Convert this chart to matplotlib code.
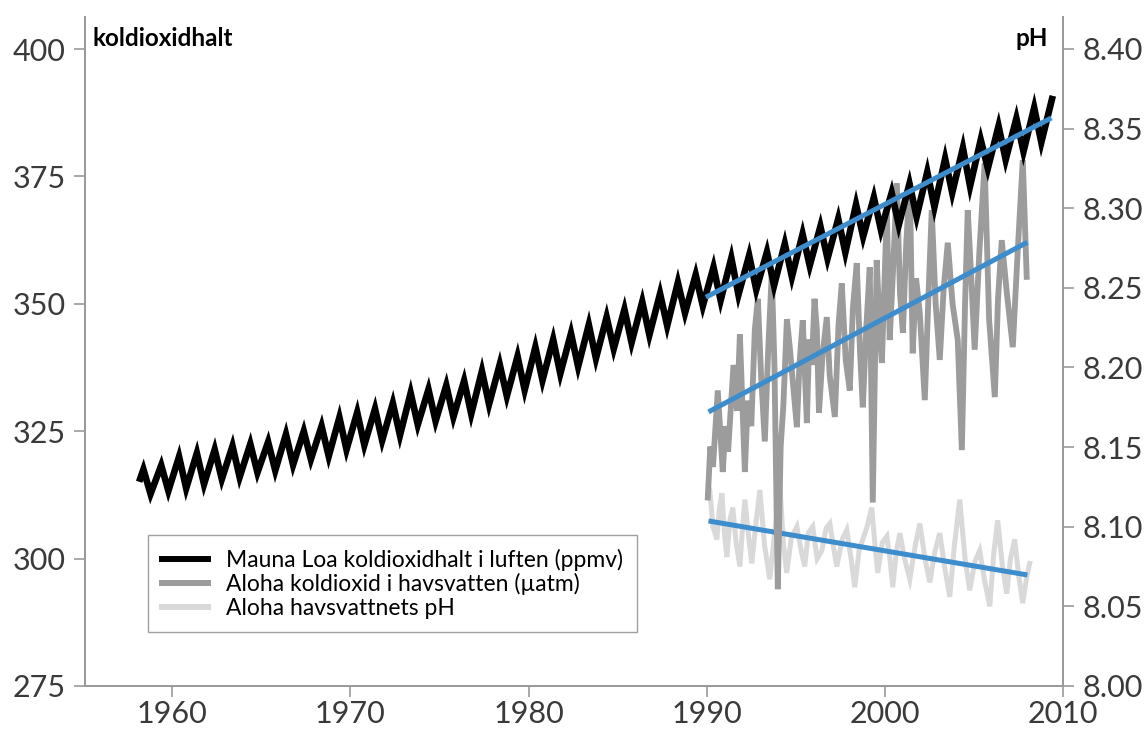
import matplotlib
matplotlib.use("Agg")
import matplotlib.pyplot as plt
from matplotlib.lines import Line2D

# Mauna Loa CO2 (ppmv): seasonal max (May) and min (Sep/Oct) per year
ml_start = (1958.2, 315.7)
ml_years = list(range(1958, 2010))
ml_peaks = [317.5, 318.3, 320.0, 320.7, 321.4, 322.1, 322.5, 322.9, 324.4, 325.0,
            326.0, 327.7, 328.7, 329.4, 330.5, 332.5, 333.2, 334.0, 334.9, 336.8,
            338.1, 339.7, 341.5, 343.0, 344.2, 345.9, 347.4, 348.9, 350.4, 352.0,
            354.2, 355.7, 357.2, 359.0, 359.5, 360.2, 361.8, 363.7, 365.2, 366.7,
            369.5, 370.9, 371.8, 373.6, 375.9, 378.5, 380.6, 382.2, 384.9, 386.4,
            388.5, 390.2]
ml_troughs = [312.7, 313.3, 313.8, 314.6, 315.6, 316.0, 316.9, 317.3, 318.4, 319.5,
              320.1, 321.4, 322.3, 323.2, 324.2, 326.3, 327.0, 327.8, 328.4, 330.3,
              331.9, 333.1, 335.0, 336.3, 337.7, 339.3, 341.2, 342.4, 343.9, 345.7,
              348.2, 349.6, 350.7, 351.8, 352.8, 353.6, 355.3, 357.5, 358.9, 360.1,
              363.2, 364.5, 365.5, 367.1, 369.0, 371.8, 373.1, 376.6, 378.3, 379.9,
              381.7]

# Aloha CO2 in seawater (uatm)
aloha_co2_years = [1990.06, 1990.2, 1990.35, 1990.62, 1990.9, 1991.05, 1991.2, 1991.5,
                   1991.7, 1991.86, 1992.14, 1992.3, 1992.5, 1992.7, 1992.87, 1993.05,
                   1993.26, 1993.45, 1993.65, 1993.8, 1993.99, 1994.15, 1994.3, 1994.5,
                   1994.66, 1994.85, 1995.06, 1995.2, 1995.39, 1995.62, 1995.75, 1995.9,
                   1996.05, 1996.18, 1996.3, 1996.5, 1996.74, 1996.9, 1997.19, 1997.4,
                   1997.58, 1997.8, 1998.03, 1998.2, 1998.42, 1998.6, 1998.76, 1998.95,
                   1999.15, 1999.32, 1999.54, 1999.7, 1999.83, 2000.11, 2000.27, 2000.45,
                   2000.67, 2000.85, 2001.01, 2001.2, 2001.4, 2001.56, 2001.75, 2001.96,
                   2002.24, 2002.45, 2002.63, 2002.85, 2003.08, 2003.3, 2003.53, 2003.8,
                   2004.09, 2004.32, 2004.5, 2004.65, 2004.85, 2005.04, 2005.3, 2005.6,
                   2005.85, 2006.17, 2006.35, 2006.56, 2006.85, 2007.18, 2007.45, 2007.74,
                   2007.96]
aloha_co2 = [312, 322, 318, 333, 317, 326, 321, 338,
             329, 344, 317, 331, 326, 345, 351, 336,
             323, 341, 356, 338, 294, 322, 330, 347,
             341.5, 334, 325.8, 338, 346.8, 326.6, 343, 338,
             351, 345, 328.6, 340, 347.4, 336, 327.8, 346,
             354, 339, 333, 349, 358, 341, 329.7, 345,
             357.2, 311, 358.6, 346, 338.4, 368.4, 342.9, 356,
             373.7, 352, 344.3, 362, 373.7, 340.3, 355, 348.2,
             331.1, 352, 368.4, 350, 339, 353, 362, 350,
             342.9, 321.3, 350, 368.4, 355, 341, 360, 377.6,
             347, 331.7, 351, 362.5, 352, 341.5, 360, 378.2,
             355.3]

# Aloha seawater pH
aloha_ph_years = [1990.17, 1990.35, 1990.57, 1990.7, 1990.85, 1991.0, 1991.13, 1991.3,
                  1991.46, 1991.65, 1991.86, 1992.0, 1992.14, 1992.35, 1992.53, 1992.75,
                  1992.98, 1993.25, 1993.54, 1993.8, 1994.10, 1994.3, 1994.49, 1994.75,
                  1995.06, 1995.3, 1995.5, 1995.7, 1995.95, 1996.2, 1996.46, 1996.7,
                  1996.91, 1997.1, 1997.3, 1997.6, 1997.86, 1998.1, 1998.31, 1998.55,
                  1998.76, 1999.0, 1999.26, 1999.45, 1999.6, 1999.85, 2000.11, 2000.3,
                  2000.44, 2000.65, 2000.84, 2001.1, 2001.4, 2001.7, 2001.96, 2002.25,
                  2002.52, 2002.8, 2003.08, 2003.35, 2003.64, 2003.9, 2004.2, 2004.5,
                  2004.76, 2005.05, 2005.32, 2005.6, 2005.89, 2006.1, 2006.33, 2006.6,
                  2006.84, 2007.05, 2007.29, 2007.5, 2007.74, 2007.95, 2008.13]
aloha_ph = [8.123, 8.100, 8.092, 8.110, 8.121, 8.095, 8.081, 8.104,
            8.112, 8.090, 8.075, 8.098, 8.117, 8.094, 8.077, 8.101,
            8.123, 8.088, 8.067, 8.095, 8.127, 8.090, 8.071, 8.093,
            8.100, 8.085, 8.075, 8.096, 8.100, 8.080, 8.085, 8.099,
            8.102, 8.088, 8.075, 8.092, 8.098, 8.080, 8.062, 8.085,
            8.092, 8.100, 8.112, 8.088, 8.071, 8.090, 8.094, 8.078,
            8.062, 8.085, 8.096, 8.080, 8.067, 8.088, 8.102, 8.080,
            8.065, 8.084, 8.096, 8.075, 8.056, 8.088, 8.117, 8.080,
            8.060, 8.078, 8.085, 8.066, 8.050, 8.082, 8.104, 8.075,
            8.058, 8.080, 8.092, 8.070, 8.052, 8.068, 8.077]

# trend lines (start, end)
ml_trend_x = [1989.95, 2009.35]
ml_trend_y = [351.3, 386.5]
co2_trend_x = [1990.1, 2008.0]
co2_trend_y = [328.8, 362.1]
ph_trend_x = [1990.1, 2008.0]
ph_trend_y = [8.1036, 8.0697]

labels = ["Mauna Loa koldioxidhalt i luften (ppmv)",
          "Aloha koldioxid i havsvatten (µatm)",
          "Aloha havsvattnets pH"]

FONT = "Lato"
SPINE = "#9a9a9a"
TICKC = "#3a3a3a"
BLUE = "#3d8ccc"

# build the sawtooth: peak in May, trough in early autumn
ml_x = [ml_start[0]]
ml_y = [ml_start[1]]
for i, yr in enumerate(ml_years):
    ml_x.append(yr + 0.38)
    ml_y.append(ml_peaks[i])
    if i < len(ml_troughs):
        ml_x.append(yr + 0.78)
        ml_y.append(ml_troughs[i])

fig = plt.figure(figsize=(11.47, 7.31), dpi=100)
ax = fig.add_axes([0.0741, 0.0616, 0.8527, 0.9151])
ax2 = ax.twinx()
ax.set_zorder(2)
ax.patch.set_visible(False)

ax2.plot(aloha_ph_years, aloha_ph, color="#d9d9d9", lw=3.6, solid_joinstyle="miter", zorder=1)
ax2.plot(ph_trend_x, ph_trend_y, color=BLUE, lw=3.6, solid_capstyle="butt", zorder=5)

ax.plot(aloha_co2_years, aloha_co2, color="#9c9c9c", lw=4.2, solid_joinstyle="miter", zorder=2)
ax.plot(ml_x, ml_y, color="black", lw=4.8, solid_joinstyle="miter", zorder=3)
ax.plot(ml_trend_x, ml_trend_y, color=BLUE, lw=3.6, solid_capstyle="butt", zorder=5)
ax.plot(co2_trend_x, co2_trend_y, color=BLUE, lw=3.6, solid_capstyle="butt", zorder=5)

ax.set_xlim(1955.1, 2010)
ax.set_ylim(275, 406.3)
ax2.set_ylim(8.0, 8.42)
ax.set_xticks([1960, 1970, 1980, 1990, 2000, 2010])
ax.set_yticks([275, 300, 325, 350, 375, 400])
ax2.set_yticks([8.00, 8.05, 8.10, 8.15, 8.20, 8.25, 8.30, 8.35, 8.40])
ax2.set_yticklabels([f"{v:.2f}" for v in ax2.get_yticks()])

for a in (ax, ax2):
    a.spines["top"].set_visible(False)
    for s in ("left", "right", "bottom"):
        a.spines[s].set_color(SPINE)
        a.spines[s].set_linewidth(1.3)
    a.tick_params(direction="out", length=8, width=1.2, color=SPINE, labelsize=22, pad=6)
    for t in a.get_xticklabels() + a.get_yticklabels():
        t.set_fontfamily(FONT)
        t.set_fontweight("normal")
        t.set_color(TICKC)
ax.tick_params(axis="x", pad=2)

ax.text(0.008, 0.985, "koldioxidhalt", transform=ax.transAxes, ha="left", va="top",
        fontsize=17.5, fontweight="bold", family=FONT, color="black")
ax.text(0.985, 0.985, "pH", transform=ax.transAxes, ha="right", va="top",
        fontsize=17.5, fontweight="bold", family=FONT, color="black")

handles = [Line2D([], [], color="black", lw=4.3),
           Line2D([], [], color="#9c9c9c", lw=4.3),
           Line2D([], [], color="#d9d9d9", lw=4.3)]
leg = ax.legend(handles, labels, loc="upper left", bbox_to_anchor=(0.129, 0.268),
                bbox_transform=fig.transFigure, borderaxespad=0, frameon=True,
                fancybox=False, edgecolor="#888888", handlelength=2.0,
                prop={"family": FONT, "size": 16.5}, labelspacing=0.1,
                borderpad=0.6, handletextpad=0.8)
leg.get_frame().set_linewidth(1.0)
leg.set_zorder(10)

fig.savefig("out.png", dpi=100)
